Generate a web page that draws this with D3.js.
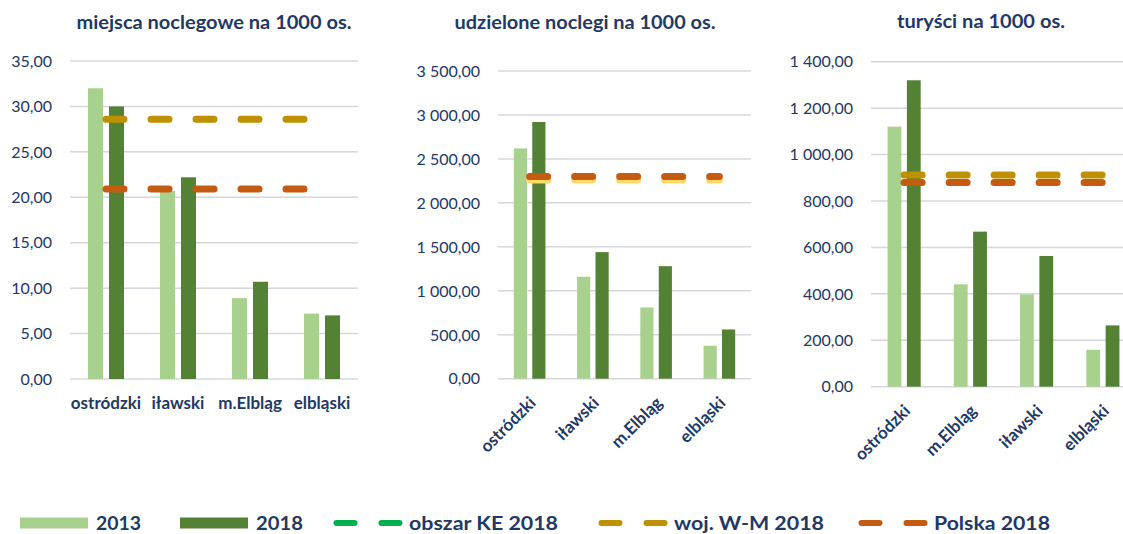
<!DOCTYPE html>
<html>
<head>
<meta charset="utf-8">
<title>noclegi i turyści</title>
<script src="https://d3js.org/d3.v7.min.js"></script>
<style>
  body { margin: 0; background: #fff; }
  svg { display: block; font-family: Lato, "Open Sans", sans-serif; }
  .grid line { stroke: #d6d6dc; stroke-width: 1.5; }
  .tick-lbl { fill: #203864; font-size: 16px; }
  .cat-lbl { fill: #1f3864; font-size: 17px; font-weight: bold; }
  .title { fill: #1f3864; font-size: 18px; font-weight: bold; }
  .leg { fill: #1f3864; font-size: 19px; font-weight: bold; }
</style>
</head>
<body>
<svg id="svg" width="1123" height="534"></svg>
<script>
// --- data ---
var series = ["2013", "2018"];

var cats1 = ["ostródzki", "iławski", "m.Elbląg", "elbląski"];
var beds2013 = [32.0, 20.7, 8.9, 7.2];
var beds2018 = [30.0, 22.2, 10.7, 7.0];
var bedsWM = 28.6, bedsPL = 20.9;
var ticks1 = [0, 5, 10, 15, 20, 25, 30, 35];

var cats2 = ["ostródzki", "iławski", "m.Elbląg", "elbląski"];
var nights2013 = [2620, 1160, 810, 375];
var nights2018 = [2920, 1440, 1280, 560];
var nightsWM = 2260, nightsPL = 2300;
var ticks2 = [0, 500, 1000, 1500, 2000, 2500, 3000, 3500];

var cats3 = ["ostródzki", "m.Elbląg", "iławski", "elbląski"];
var tour2013 = [1120, 441, 398, 159];
var tour2018 = [1320, 668, 563, 264];
var tourWM = 912, tourPL = 880;
var ticks3 = [0, 200, 400, 600, 800, 1000, 1200, 1400];

var legendItems = [
  {name: "2013", type: "bar", color: "#a9d18e"},
  {name: "2018", type: "bar", color: "#548235"},
  {name: "obszar KE 2018", type: "line", color: "#00b050"},
  {name: "woj. W-M 2018", type: "line", color: "#bf9000"},
  {name: "Polska 2018", type: "line", color: "#c55a11"}
];

var pl = d3.formatLocale({decimal: ",", thousands: " ", grouping: [3], currency: ["", " zł"]});
var fmt = pl.format(",.2f");

var svg = d3.select("#svg");
svg.append("rect").attr("width", 1123).attr("height", 534).attr("fill", "#fff");

var barColors = {"2013": "#a9d18e", "2018": "#548235"};

function drawPanel(p) {
  var g = svg.append("g");

  var x = d3.scaleBand().domain(p.cats).range([p.left, p.right]);
  var x1 = d3.scaleBand().domain(series).range([0, x.bandwidth() * 0.5]).paddingInner(0.2857);
  var y = d3.scaleLinear().domain([0, d3.max(p.ticks)]).range([p.bottom, p.top]);
  var off = (x.bandwidth() - x.bandwidth() * 0.5) / 2;

  // grid
  g.append("g").attr("class", "grid")
    .selectAll("line").data(p.ticks).enter().append("line")
    .attr("x1", p.left).attr("x2", p.right)
    .attr("y1", function(d) { return y(d); })
    .attr("y2", function(d) { return y(d); });

  // y labels
  g.selectAll(".tick-lbl").data(p.ticks).enter().append("text")
    .attr("class", "tick-lbl")
    .attr("x", p.left - 18)
    .attr("y", function(d) { return y(d); })
    .attr("dy", "0.36em")
    .attr("text-anchor", "end")
    .text(function(d) { return fmt(d); });

  // bars
  var rows = p.cats.map(function(c, i) {
    return {cat: c, vals: [{s: "2013", v: p.a[i]}, {s: "2018", v: p.b[i]}]};
  });
  var grp = g.selectAll(".grp").data(rows).enter().append("g")
    .attr("transform", function(d) { return "translate(" + (x(d.cat) + off) + ",0)"; });
  grp.selectAll("rect").data(function(d) { return d.vals; }).enter().append("rect")
    .attr("x", function(d) { return x1(d.s); })
    .attr("width", x1.bandwidth())
    .attr("y", function(d) { return y(d.v); })
    .attr("height", function(d) { return p.bottom - y(d.v); })
    .attr("fill", function(d) { return barColors[d.s]; });

  // reference lines (woj. then Polska on top)
  var xa = x(p.cats[0]) + x.bandwidth() / 2;
  var xb = x(p.cats[p.cats.length - 1]) + x.bandwidth() / 2;
  [{v: p.wm, c: p.wmColor}, {v: p.pl, c: "#c55a11"}].forEach(function(r) {
    g.append("line")
      .attr("x1", xa).attr("x2", xb)
      .attr("y1", y(r.v)).attr("y2", y(r.v))
      .attr("stroke", r.c).attr("stroke-width", 7)
      .attr("stroke-linecap", "round")
      .attr("stroke-dasharray", "18,27");
  });

  // category labels
  var lbl = g.selectAll(".cat-lbl").data(p.cats).enter().append("text")
    .attr("class", "cat-lbl")
    .text(function(d) { return d; });
  if (p.rotate) {
    lbl.attr("text-anchor", "end")
      .attr("dy", "0.35em")
      .attr("transform", function(d) {
        return "translate(" + (x(d) + x.bandwidth() / 2 + 3) + "," + (p.bottom + 21) + ") rotate(-45)";
      });
  } else {
    lbl.attr("text-anchor", "middle")
      .attr("x", function(d) { return x(d) + x.bandwidth() / 2; })
      .attr("y", p.bottom + 30);
  }

  // title
  g.append("text").attr("class", "title")
    .attr("x", p.titleX).attr("y", p.titleY)
    .attr("text-anchor", "middle")
    .attr("textLength", p.titleW).attr("lengthAdjust", "spacingAndGlyphs")
    .text(p.title);
}

drawPanel({cats: cats1, a: beds2013, b: beds2018, wm: bedsWM, pl: bedsPL, wmColor: "#bf9000",
  ticks: ticks1, left: 70, right: 358, top: 61, bottom: 379,
  title: "miejsca noclegowe na 1000 os.", titleX: 214, titleY: 29, titleW: 275, rotate: false});

drawPanel({cats: cats2, a: nights2013, b: nights2018, wm: nightsWM, pl: nightsPL, wmColor: "#ffd966",
  ticks: ticks2, left: 498, right: 751, top: 71, bottom: 378.7,
  title: "udzielone noclegi na 1000 os.", titleX: 585, titleY: 29, titleW: 261, rotate: true});

drawPanel({cats: cats3, a: tour2013, b: tour2018, wm: tourWM, pl: tourPL, wmColor: "#bf9000",
  ticks: ticks3, left: 871, right: 1136, top: 61.7, bottom: 386.7,
  title: "turyści na 1000 os.", titleX: 981, titleY: 28, titleW: 168, rotate: true});

// legend
var legX = [20, 180, 333, 598, 858];
var legTextW = [45, 47, 149, 150, 116];
var legY = 523;
var leg = svg.append("g");
legendItems.forEach(function(d, i) {
  var x0 = legX[i];
  if (d.type === "bar") {
    leg.append("rect").attr("x", x0).attr("y", legY - 5.5)
      .attr("width", 68).attr("height", 11).attr("fill", d.color);
  } else {
    leg.append("line")
      .attr("x1", x0 + 3.5).attr("x2", x0 + 66.5)
      .attr("y1", legY).attr("y2", legY)
      .attr("stroke", d.color).attr("stroke-width", 6)
      .attr("stroke-linecap", "round")
      .attr("stroke-dasharray", "18,27");
  }
  leg.append("text").attr("class", "leg")
    .attr("x", x0 + 76).attr("y", legY).attr("dy", "0.36em")
    .attr("textLength", legTextW[i]).attr("lengthAdjust", "spacingAndGlyphs")
    .text(d.name);
});
</script>
</body>
</html>
